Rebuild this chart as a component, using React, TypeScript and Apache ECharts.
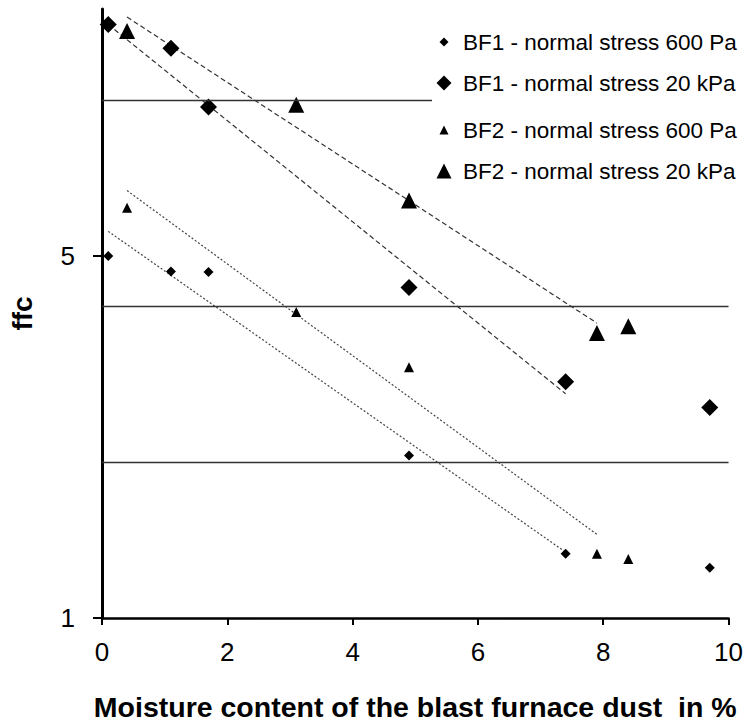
import React, { useEffect, useRef } from "react";
import * as echarts from "echarts";

// Moisture content (x) in %
const xBF1 = [0.1, 1.1, 1.7, 4.9, 7.4, 9.7];
const xBF2 = [0.4, 3.1, 4.9, 7.9, 8.4];

// ffc values
const ffcBF1_600Pa = [5.0, 4.67, 4.66, 2.06, 1.33, 1.25];
const ffcBF1_20kPa = [14.0, 12.6, 9.7, 4.35, 2.86, 2.55];
const ffcBF2_600Pa = [6.2, 3.9, 3.05, 1.33, 1.3];
const ffcBF2_20kPa = [13.6, 9.8, 6.4, 3.55, 3.66];

// Trend line end points (x, ffc)
const trendBF1_600Pa = [[0.1, 5.58], [7.4, 1.34]];
const trendBF1_20kPa = [[0.1, 14.0], [7.4, 2.71]];
const trendBF2_600Pa = [[0.4, 6.69], [7.9, 1.45]];
const trendBF2_20kPa = [[0.4, 14.47], [7.9, 3.71]];

// Flowability class limits
const ffcClassLimits = [2, 4, 10];

const seriesNames = [
  "BF1 - normal stress 600 Pa",
  "BF1 - normal stress 20 kPa",
  "BF2 - normal stress 600 Pa",
  "BF2 - normal stress 20 kPa",
];

const xTicks = [0, 2, 4, 6, 8, 10];
const yTicks = [1, 5];

const FONT = "'Liberation Sans', Arial, sans-serif";

function pairs(xs: number[], ys: number[]) {
  return xs.map((x, i) => [x, ys[i]]);
}

export default function App() {
  const ref = useRef<HTMLDivElement>(null);

  useEffect(() => {
    if (!ref.current) return;
    const chart = echarts.init(ref.current, undefined, { renderer: "svg" });

    const legendRows = [
      { name: seriesNames[0], icon: "diamond", size: 9, center: 35 },
      { name: seriesNames[1], icon: "diamond", size: 15, center: 79 },
      { name: seriesNames[2], icon: "triangle", size: 9, center: 123 },
      { name: seriesNames[3], icon: "triangle", size: 15, center: 167 },
    ];

    const legends = legendRows.map((r) => ({
      show: true,
      orient: "horizontal",
      left: 444 - r.size / 2,
      top: r.center - r.size / 2,
      padding: 0,
      itemWidth: r.size,
      itemHeight: r.size,
      z: 20,
      selectedMode: false,
      itemStyle: { color: "#000", opacity: 1 },
      data: [{ name: r.name, icon: r.icon }],
      textStyle: {
        fontFamily: FONT,
        fontSize: 22.5,
        color: "#000",
        padding: [0, 0, 0, 463 - (444 + r.size / 2 + 5)],
      },
    }));

    const trendStyle = (dash: number[], color: string) => ({
      type: "line",
      showSymbol: false,
      symbol: "none",
      silent: true,
      z: 1,
      lineStyle: { color, width: 1.2, type: dash },
    });

    const markerStyle = { color: "#000", opacity: 1 };

    chart.setOption({
      animation: false,
      backgroundColor: "#fff",
      grid: { left: 102, right: 16, top: 9, bottom: 105, containLabel: false },
      legend: legends,
      graphic: [
        {
          type: "rect",
          z: 10,
          shape: { x: 432, y: 10, width: 314, height: 178 },
          style: { fill: "#fff" },
          silent: true,
        },
      ],
      xAxis: {
        type: "value",
        min: 0,
        max: 10,
        interval: 2,
        name: "Moisture content of the blast furnace dust  in %",
        nameLocation: "middle",
        nameGap: 74,
        nameTextStyle: { fontFamily: FONT, fontSize: 28.5, fontWeight: "bold", color: "#000" },
        axisLine: { show: true, lineStyle: { color: "#000", width: 2.5 } },
        axisTick: { show: true, length: 7, lineStyle: { color: "#000", width: 2 }, customValues: xTicks },
        axisLabel: { fontFamily: FONT, fontSize: 26, color: "#000", margin: 21, customValues: xTicks },
        splitLine: { show: false },
      },
      yAxis: {
        type: "log",
        logBase: 5,
        min: 1,
        max: 15,
        name: "ffc",
        nameLocation: "middle",
        nameGap: 66,
        nameTextStyle: { fontFamily: FONT, fontSize: 28, fontWeight: "bold", color: "#000" },
        axisLine: { show: true, lineStyle: { color: "#000", width: 3 } },
        axisTick: { show: true, length: 9, lineStyle: { color: "#000", width: 2 }, customValues: yTicks },
        axisLabel: { fontFamily: FONT, fontSize: 26, color: "#000", margin: 27, customValues: yTicks },
        splitLine: { show: false },
        minorSplitLine: { show: false },
      },
      series: [
        {
          name: seriesNames[0],
          type: "scatter",
          symbol: "diamond",
          symbolSize: 10,
          z: 3,
          itemStyle: markerStyle,
          data: pairs(xBF1, ffcBF1_600Pa),
          markLine: {
            silent: true,
            symbol: "none",
            label: { show: false },
            lineStyle: { color: "#333", width: 1.3, type: "solid" },
            data: ffcClassLimits.map((v) => ({ yAxis: v })),
          },
        },
        {
          name: seriesNames[1],
          type: "scatter",
          symbol: "diamond",
          symbolSize: 17,
          z: 3,
          itemStyle: markerStyle,
          data: pairs(xBF1, ffcBF1_20kPa),
        },
        {
          name: seriesNames[2],
          type: "scatter",
          symbol: "triangle",
          symbolSize: 10,
          z: 3,
          itemStyle: markerStyle,
          data: pairs(xBF2, ffcBF2_600Pa),
        },
        {
          name: seriesNames[3],
          type: "scatter",
          symbol: "triangle",
          symbolSize: 16,
          z: 3,
          itemStyle: markerStyle,
          data: pairs(xBF2, ffcBF2_20kPa),
        },
        { name: "trend1", ...trendStyle([2, 2], "#444"), data: trendBF1_600Pa },
        { name: "trend2", ...trendStyle([5, 3], "#333"), data: trendBF1_20kPa },
        { name: "trend3", ...trendStyle([2, 2], "#444"), data: trendBF2_600Pa },
        { name: "trend4", ...trendStyle([5, 3], "#333"), data: trendBF2_20kPa },
      ],
    });

    return () => chart.dispose();
  }, []);

  return <div ref={ref} style={{ width: 746, height: 726, position: "absolute", left: 0, top: 0 }} />;
}
